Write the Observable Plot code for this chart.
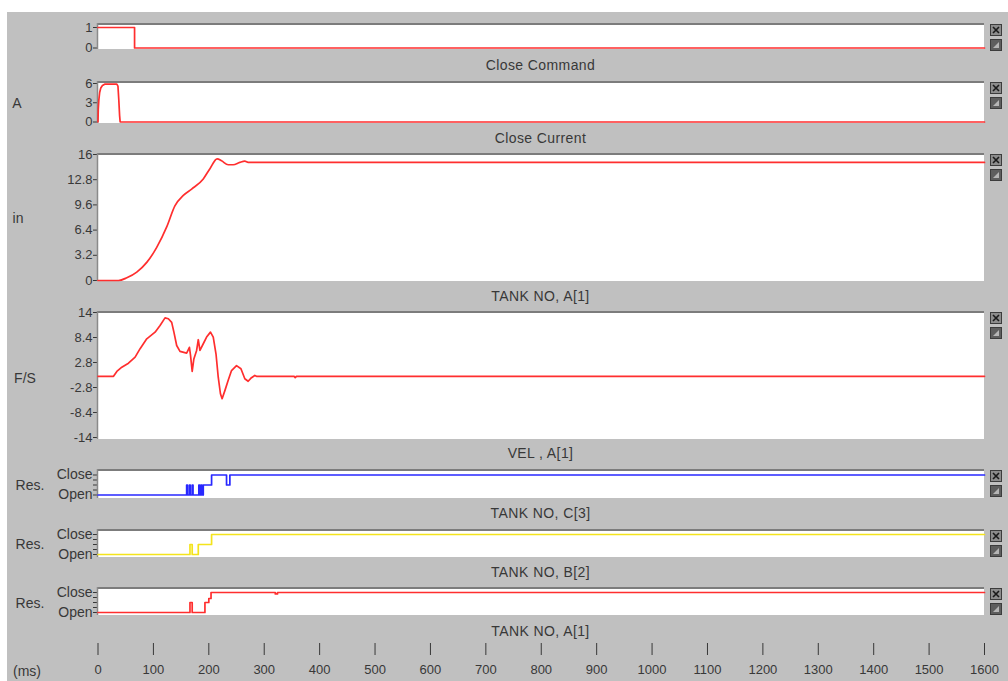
<!DOCTYPE html>
<html><head><meta charset="utf-8">
<script src="https://cdn.jsdelivr.net/npm/d3@7"></script>
<script src="https://cdn.jsdelivr.net/npm/@observablehq/plot@0.6"></script>
<style>
body{margin:0;background:#fff;}
#root{position:relative;width:1008px;height:681px;overflow:hidden;background:#fff;font-family:"Liberation Sans",Arial,sans-serif;color:#383838;}
#bg{position:absolute;left:7px;top:12px;right:0;bottom:0;background:#c0c0c0;}
.plot{position:absolute;left:0;}
.title{position:absolute;left:97px;width:887px;text-align:center;font-size:14px;letter-spacing:0.4px;line-height:16px;}
.unit{position:absolute;font-size:14px;line-height:16px;transform:translate(-50%,-50%);white-space:nowrap;}
.icon{position:absolute;left:990px;}
</style></head><body><div id="root"><div id="bg"></div></div>
<script>
// ---------- data ----------
const xTicks = [0,100,200,300,400,500,600,700,800,900,1000,1100,1200,1300,1400,1500,1600];
const panelTitles = ["Close Command","Close Current","TANK NO, A[1]","VEL , A[1]","TANK NO, C[3]","TANK NO, B[2]","TANK NO, A[1]"];
const unitLabels = ["", "A", "in", "F/S", "Res.", "Res.", "Res."];

const cmdTicks = [0, 1];
const currentTicks = [0, 3, 6];
const travelTicks = [0, 3.2, 6.4, 9.6, 12.8, 16];
const velTicks = [-14, -8.4, -2.8, 2.8, 8.4, 14];
const resTicks = [0, 0.25, 0.5, 0.75, 1];
const resTickLabels = {0: "Open", 1: "Close"};

// Close Command
const closeCmdTime  = [0, 66, 66, 1600];
const closeCmdValue = [1, 1, 0, 0];
// Close Current (A)
const currentTime  = [0, 0.5, 1.5, 3, 5, 8, 12, 34, 36, 37.5, 39, 40, 1600];
const currentValue = [0, 2.0, 3.4, 4.6, 5.3, 5.7, 5.9, 5.9, 5.6, 3.5, 1, 0, 0];
// Travel (in)
const travelTime  = [0, 37, 52, 70, 88, 106, 124, 139, 154, 169, 190, 202, 215, 223, 235, 244, 256, 265, 271, 1600];
const travelValue = [0, 0, 0.34, 1.06, 2.3, 4.2, 6.8, 9.5, 10.8, 11.6, 12.9, 14.2, 15.45, 15.2, 14.7, 14.7, 15.0, 15.15, 15.0, 15.0];
// Velocity (F/S)
const velTime  = [0, 28, 34, 43, 55, 67, 76, 88, 103, 112, 121, 127, 133, 137, 142, 148, 160, 165, 167, 170, 173, 178, 181, 184, 190, 196, 203, 208, 213, 217, 221, 224, 229, 235, 241, 250, 258, 265, 271, 277, 283, 286, 354, 356, 358, 1600];
const velValue = [-0.3, -0.3, 0.8, 1.75, 2.65, 4.0, 5.9, 8.1, 9.6, 11.1, 12.8, 12.6, 11.8, 9.6, 6.6, 5.3, 4.9, 6.2, 4.4, 0.8, 3.6, 5.5, 7.9, 5.5, 7.0, 8.5, 9.6, 8.5, 4.7, -0.5, -4.2, -5.3, -3.5, -1.2, 1.0, 2.1, 1.4, -0.85, -1.4, -0.6, -0.1, -0.3, -0.3, -0.6, -0.3, -0.3];
// Contact resistance states (0 = Open, 1 = Close)
const resCTime  = [0, 160, 161.5, 165, 166.5, 170, 171.5, 182, 183.5, 186, 187.5, 190, 205, 232, 238, 1600];
const resCValue = [0, 0.5, 0, 0.5, 0, 0.5, 0, 0.5, 0, 0.5, 0, 0.5, 1, 0.5, 1, 1];
const resBTime  = [0, 166, 170, 181, 205, 1600];
const resBValue = [0, 0.5, 0, 0.5, 1, 1];
const resATime  = [0, 166, 170, 193, 200, 204, 320, 324, 1600];
const resAValue = [0, 0.5, 0, 0.5, 0.7, 1, 0.93, 1, 1];

// ---------- layout ----------
const RED = "#ff2e2e", BLUE = "#2828ff", YELLOW = "#f4e41c";
const panels = [
  {frameTop:23,  frameBottom:49,  valTop:27,  valBottom:47.5, domain:[0,1],    ticks:cmdTicks,     fmt:d=>String(d), t:closeCmdTime, v:closeCmdValue, color:RED, curve:"linear", titleY:65, fs:13},
  {frameTop:81,  frameBottom:123, valTop:83,  valBottom:121.5, domain:[0,6],   ticks:currentTicks, fmt:d=>String(d), t:currentTime, v:currentValue, color:RED, curve:"linear", titleY:138, unitX:17, unitY:103, fs:13},
  {frameTop:153, frameBottom:281, valTop:154, valBottom:280, domain:[0,16],    ticks:travelTicks,  fmt:d=>String(d), t:travelTime, v:travelValue, color:RED, curve:"monotone-x", titleY:296, unitX:18, unitY:218, fs:13},
  {frameTop:311, frameBottom:439, valTop:312, valBottom:437, domain:[-14,14],  ticks:velTicks,     fmt:d=>String(d), t:velTime, v:velValue, color:RED, curve:"linear", titleY:453, unitX:25, unitY:378, fs:13},
  {frameTop:469, frameBottom:498, valTop:474.5, valBottom:494.5, domain:[0,1], ticks:resTicks,     fmt:d=>resTickLabels[d] ?? "", t:resCTime, v:resCValue, color:BLUE, curve:"step-after", titleY:513, unitX:30, unitY:485, fs:14},
  {frameTop:529, frameBottom:557, valTop:534, valBottom:554, domain:[0,1],     ticks:resTicks,     fmt:d=>resTickLabels[d] ?? "", t:resBTime, v:resBValue, color:YELLOW, curve:"step-after", titleY:572, unitX:30, unitY:544, fs:14},
  {frameTop:587, frameBottom:615, valTop:592, valBottom:612, domain:[0,1],     ticks:resTicks,     fmt:d=>resTickLabels[d] ?? "", t:resATime, v:resAValue, color:RED, curve:"step-after", titleY:631, unitX:30, unitY:603, fs:14}
];

const root = document.getElementById("root");
const W = 1008, ML = 97, MR = 24, PAD = 10;
const XRANGE = [97.5, 984];

function frameMark(index, scales, values, dims) {
  const g = d3.create("svg:g");
  const x0 = dims.marginLeft, x1 = dims.width - dims.marginRight;
  const y0 = dims.marginTop, y1 = dims.height - dims.marginBottom;
  g.append("rect").attr("x", x0).attr("y", y0).attr("width", x1 - x0).attr("height", y1 - y0).attr("fill", "#fff");
  g.append("line").attr("x1", x0).attr("x2", x1).attr("y1", y0 + 1).attr("y2", y0 + 1).attr("stroke", "#7c7c7c").attr("stroke-width", 2);
  g.append("line").attr("x1", x0 + 0.5).attr("x2", x0 + 0.5).attr("y1", y0).attr("y2", y1).attr("stroke", "#8a8a8a").attr("stroke-width", 1.5);
  return g.node();
}

panels.forEach((p, i) => {
  const svgTop = p.frameTop - PAD;
  const H = p.frameBottom - p.frameTop + 2 * PAD;
  const data = p.t.map((t, k) => ({t, v: p.v[k]}));
  const chart = Plot.plot({
    width: W, height: H,
    marginLeft: ML, marginRight: MR, marginTop: PAD, marginBottom: PAD,
    style: {background: "transparent", overflow: "visible", fontSize: p.fs + "px", fontFamily: '"Liberation Sans", Arial, sans-serif', color: "#383838"},
    x: {domain: [0, 1600], range: XRANGE, axis: null},
    y: {domain: p.domain, range: [p.valBottom - svgTop, p.valTop - svgTop], ticks: p.ticks, tickFormat: p.fmt, tickSize: 4, tickPadding: 1, label: null},
    marks: [
      frameMark,
      Plot.line(data, {x: "t", y: "v", stroke: p.color, strokeWidth: 1.7, curve: p.curve})
    ]
  });
  chart.classList.add("plot");
  chart.style.top = svgTop + "px";
  root.appendChild(chart);

  const title = document.createElement("div");
  title.className = "title";
  title.textContent = panelTitles[i];
  title.style.top = (p.titleY - 8) + "px";
  root.appendChild(title);

  if (unitLabels[i]) {
    const u = document.createElement("div");
    u.className = "unit";
    u.textContent = unitLabels[i];
    u.style.left = p.unitX + "px";
    u.style.top = p.unitY + "px";
    root.appendChild(u);
  }

  // window-control icons
  const ic = d3.create("svg").attr("class", "icon").attr("width", 13).attr("height", 28)
    .style("top", (p.frameTop + 1) + "px");
  ic.append("rect").attr("x", 0.5).attr("y", 0.5).attr("width", 11).attr("height", 11).attr("fill", "#8c8c8c").attr("stroke", "#3c3c3c");
  ic.append("path").attr("d", "M3,3L9,9M9,3L3,9").attr("stroke", "#1a1a1a").attr("stroke-width", 1.6);
  ic.append("rect").attr("x", 0.5).attr("y", 15.5).attr("width", 11).attr("height", 11).attr("fill", "#5e5e5e").attr("stroke", "#3c3c3c");
  ic.append("path").attr("d", "M3,24L9,24L9,18Z").attr("fill", "#b5b5b5");
  root.appendChild(ic.node());
});

// x axis (ms)
const xAxis = Plot.plot({
  width: W, height: 41,
  marginLeft: ML, marginRight: MR, marginTop: 3, marginBottom: 38,
  style: {background: "transparent", overflow: "visible", fontSize: "13px", fontFamily: '"Liberation Sans", Arial, sans-serif', color: "#383838"},
  x: {domain: [0, 1600], range: XRANGE, ticks: xTicks, tickFormat: d => String(d), tickSize: 12, tickPadding: 9, label: null},
  marks: [Plot.ruleX(xTicks, {strokeOpacity: 0})]
});
xAxis.classList.add("plot");
xAxis.style.top = "640px";
root.appendChild(xAxis);

const ms = document.createElement("div");
ms.className = "unit";
ms.textContent = "(ms)";
ms.style.left = "27px";
ms.style.top = "671px";
root.appendChild(ms);
</script></body></html>
